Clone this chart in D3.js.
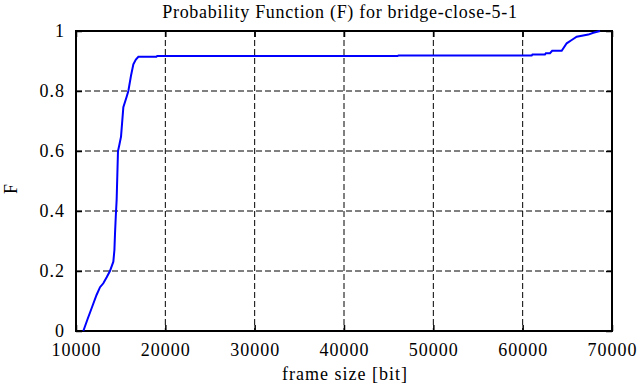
<!DOCTYPE html>
<html>
<head>
<meta charset="utf-8">
<script src="https://cdn.jsdelivr.net/npm/d3@7"></script>
<style>
  body { margin: 0; background: #fff; }
</style>
</head>
<body>
<svg width="639" height="387"></svg>
<script>
// frame size [bit] -> F
const frameSize = [10820, 11300, 11800, 12300, 12690, 13060, 13450, 13800, 14180, 14300, 14370, 14450, 14550, 14700, 14850, 15040, 15300, 15670, 15860, 16150, 16420, 16700, 16980, 19000, 19100, 46000, 46100, 61010, 61100, 62500, 62600, 63060, 63300, 64370, 64930, 65490, 66050, 67350, 67910, 68660]
const probF = [0, 0.04, 0.08, 0.12, 0.146, 0.159, 0.18, 0.2, 0.231, 0.27, 0.327, 0.38, 0.437, 0.6, 0.62, 0.648, 0.746, 0.781, 0.8, 0.85, 0.889, 0.905, 0.914, 0.914, 0.917, 0.917, 0.918, 0.918, 0.922, 0.922, 0.926, 0.926, 0.934, 0.934, 0.959, 0.97, 0.981, 0.988, 0.994, 1]
const xTicks = [10000, 20000, 30000, 40000, 50000, 60000, 70000]
const yTicks = [0, 0.2, 0.4, 0.6, 0.8, 1]

const data = frameSize.map((x, i) => ({x: x, y: probF[i]}))

const margin = {top: 31, right: 27, bottom: 56, left: 76}
const width = 639 - margin.left - margin.right
const height = 387 - margin.top - margin.bottom
const serif = "'Liberation Serif', 'Times New Roman', serif"

const svg = d3.select("svg")
const g = svg.append("g").attr("transform", "translate(" + margin.left + "," + margin.top + ")")

const scaleX = d3.scaleLinear().domain([10000, 70000]).range([0, width])
const scaleY = d3.scaleLinear().domain([0, 1]).range([height, 0])

// dashed grid
g.append("g").selectAll("line")
    .data(xTicks.slice(1, -1)).enter().append("line")
    .attr("x1", d => scaleX(d)).attr("x2", d => scaleX(d))
    .attr("y1", 0).attr("y2", height)
    .attr("stroke", "#000").attr("stroke-dasharray", "6,3")
g.append("g").selectAll("line")
    .data(yTicks.slice(1, -1)).enter().append("line")
    .attr("y1", d => scaleY(d)).attr("y2", d => scaleY(d))
    .attr("x1", 0).attr("x2", width)
    .attr("stroke", "#000").attr("stroke-dasharray", "6,3")

// axes, ticks inward on all four sides
const fmt = d => String(d)
g.append("g").attr("transform", "translate(0," + height + ")")
    .call(d3.axisBottom(scaleX).tickValues(xTicks).tickFormat(fmt).tickSizeInner(-6).tickSizeOuter(0).tickPadding(12))
g.append("g")
    .call(d3.axisTop(scaleX).tickValues(xTicks).tickFormat("").tickSizeInner(-6).tickSizeOuter(0))
g.append("g")
    .call(d3.axisLeft(scaleY).tickValues(yTicks).tickFormat(fmt).tickSizeInner(-6).tickSizeOuter(0).tickPadding(11))
g.append("g").attr("transform", "translate(" + width + ",0)")
    .call(d3.axisRight(scaleY).tickValues(yTicks).tickFormat("").tickSizeInner(-6).tickSizeOuter(0))

g.selectAll(".domain").remove()
g.selectAll(".tick line").attr("stroke", "#000").attr("stroke-width", 1.5)
g.selectAll(".tick text").attr("fill", "#000")
    .style("font-size", "18px").style("letter-spacing", "1px").style("font-family", serif)

g.append("rect").attr("width", width).attr("height", height)
    .attr("fill", "none").attr("stroke", "#000").attr("stroke-width", 2)

// curve
const line = d3.line().x(d => scaleX(d.x)).y(d => scaleY(d.y))
g.append("path").attr("d", line(data))
    .attr("fill", "none").attr("stroke", "#0000ff").attr("stroke-width", 2)

// labels
svg.append("text").attr("x", 340).attr("y", 18).attr("text-anchor", "middle")
    .style("font-family", serif).style("font-size", "18px").style("letter-spacing", "0.7px")
    .text("Probability Function (F) for bridge-close-5-1")
svg.append("text").attr("x", 345).attr("y", 380).attr("text-anchor", "middle")
    .style("font-family", serif).style("font-size", "18px").style("letter-spacing", "1px")
    .text("frame size [bit]")
svg.append("text").attr("transform", "translate(17,189) rotate(-90)")
    .attr("text-anchor", "middle").style("font-family", serif).style("font-size", "18px")
    .text("F")
</script>
</body>
</html>
